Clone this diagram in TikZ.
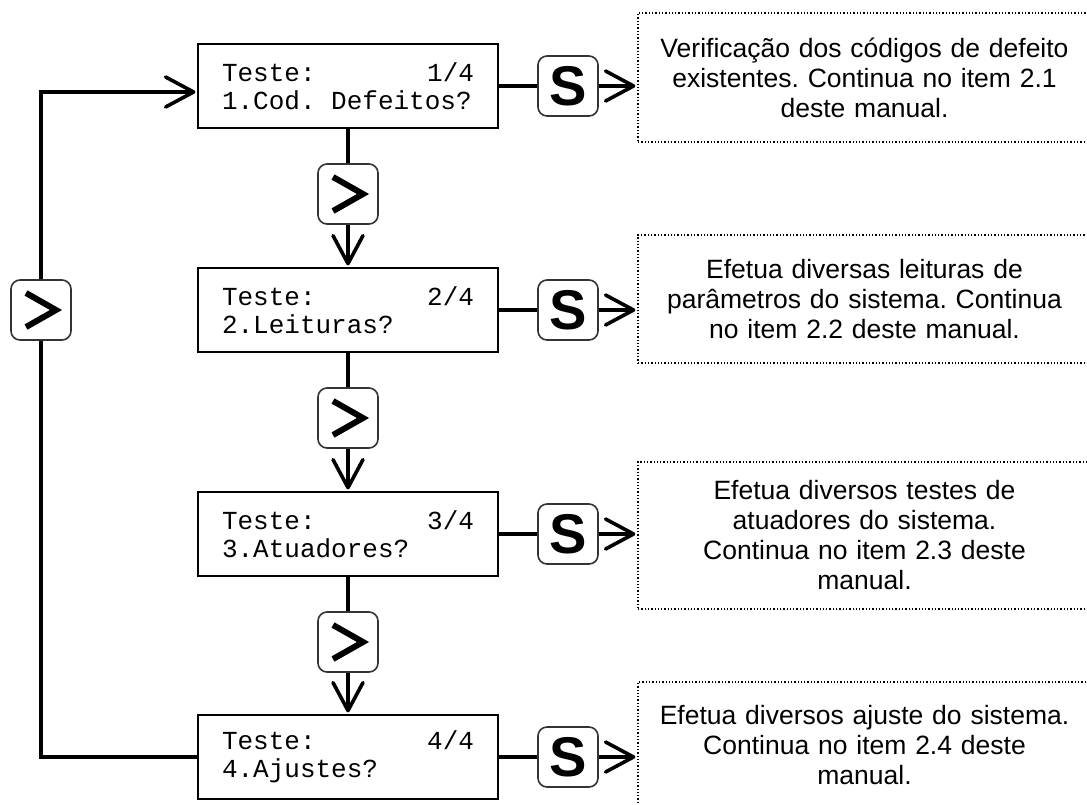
\documentclass[tikz,border=0pt]{standalone}
\usepackage{fontspec}
\setmainfont{Liberation Sans}
\newfontfamily\lcdfont{Liberation Mono}
\usetikzlibrary{arrows.meta}
\frenchspacing
\def\lcdx{348}
\def\keyx{568}
\def\descx{864.5}
\def\lcdsp{\makebox[0.6em]{}}

\begin{document}
\begin{tikzpicture}[x=1pt, y=-1pt,
	lcd/.style={draw, line width=1.2pt, minimum width=300pt, minimum height=84pt, text width=252pt, align=left, font=\lcdfont\fontsize{26}{28}\selectfont},
	key/.style={draw=black!80, line width=1.6pt, rounded corners=9pt, fill=white, minimum width=60pt, minimum height=60pt, inner sep=0pt},
	skey/.style={key, font=\fontsize{56}{56}\selectfont\bfseries},
	nextkey/.style={key, path picture={\draw[black, line width=6pt, sharp corners] ([shift={(-15,-17)}]path picture bounding box.center) -- ++(30,17) -- ++(-30,17);}},
	desc/.style={draw, dotted, line width=1.3pt, minimum width=453pt, text width=440pt, align=center, font=\fontsize{26.5}{30}\selectfont},
	link/.style={line width=3.6pt},
	tip/.style={-{Straight Barb[length=28pt,width=30pt,round]}, shorten >=2pt}]
	\useasboundingbox (0,0) rectangle (1087,804);
	\clip (0,0) rectangle (1087,804);
	%\draw[step=10, black!10] (0,0) grid (1087,804);

	% visores
	\node[lcd] (lcd1) at (\lcdx,86) {Teste:\hfill 1/4\\1.Cod.\lcdsp Defeitos?};
	\node[lcd] (lcd2) at (\lcdx,310) {Teste:\hfill 2/4\\2.Leituras?};
	\node[lcd] (lcd3) at (\lcdx,534) {Teste:\hfill 3/4\\3.Atuadores?};
	\node[lcd] (lcd4) at (\lcdx,757) {Teste:\hfill 4/4\\4.Ajustes?};

	% teclas
	\node[nextkey] (nxt1) at (\lcdx,194) {};
	\node[nextkey] (nxt2) at (\lcdx,418) {};
	\node[nextkey] (nxt3) at (\lcdx,642) {};
	\node[nextkey] (back) at (41,310) {};
	\foreach \i/\y in {1/86,2/310,3/534,4/757}
		\node[skey] (s\i) at (\keyx,\y) {S};

	% textos
	\node[desc, minimum height=129pt] (d1) at (\descx,77.5) {Verificação dos códigos de defeito\\existentes. Continua no item 2.1\\deste manual.};
	\node[desc, minimum height=128pt] (d2) at (\descx,299) {Efetua diversas leituras de\\parâmetros do sistema. Continua\\no item 2.2 deste manual.};
	\node[desc, minimum height=147pt] (d3) at (\descx,535.5) {Efetua diversos testes de\\atuadores do sistema.\\Continua no item 2.3 deste\\manual.};
	\node[desc, minimum height=126pt] (d4) at (\descx,745) {Efetua diversos ajuste do sistema.\\Continua no item 2.4 deste\\manual.};

	% ligacoes
	\foreach \i in {1,2,3,4} {
		\draw[link] (lcd\i) -- (s\i);
		\draw[link, tip] (s\i.east) -- (s\i.east -| d\i.west);
	}
	\foreach \i/\j in {1/2,2/3,3/4} {
		\draw[link] (lcd\i) -- (nxt\i);
		\draw[link, tip] (nxt\i) -- (lcd\j);
	}
	\draw[link] (lcd4.west) -| (back);
	\draw[link, tip] (back) |- ([yshift=-6pt]lcd1.west);
\end{tikzpicture}
\end{document}
